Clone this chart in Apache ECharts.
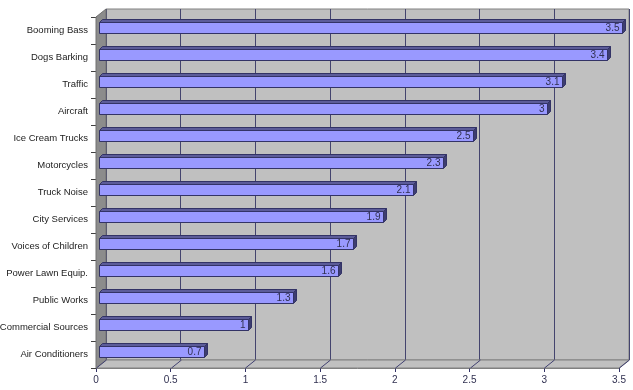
<!DOCTYPE html>
<html><head><meta charset="utf-8">
<script src="https://cdn.jsdelivr.net/npm/echarts@6/dist/echarts.min.js"></script>
<style>html,body{margin:0;padding:0;background:#fff}#c{width:633px;height:390px}</style>
</head><body><div id="c"></div>
<script>
const categories = ['Booming Bass','Dogs Barking','Traffic','Aircraft','Ice Cream Trucks','Motorcycles','Truck Noise','City Services','Voices of Children','Power Lawn Equip.','Public Works','Commercial Sources','Air Conditioners'];
const values = [3.5,3.4,3.1,3,2.5,2.3,2.1,1.9,1.7,1.6,1.3,1,0.7];
const xMin = 0, xMax = 3.5, xStep = 0.5;
const xTickValues = [0,0.5,1,1.5,2,2.5,3,3.5];

const DX = 10, DY = 8;      // wall depth
const BDX = 3, BDY = 3;     // bar depth
const FONT = 'Liberation Sans';

const chart = echarts.init(document.getElementById('c'), null, {renderer:'canvas'});

function decor(params, api) {
  const cs = params.coordSys;
  const x0 = cs.x, x1 = cs.x + cs.width, yt = cs.y, yb = cs.y + cs.height;
  const children = [];
  children.push({type:'polygon', shape:{points:[[x0,yt],[x0+DX,yt-DY],[x0+DX,yb-DY],[x0,yb]]},
    style:{fill:'#8c8c8c', stroke:'#707070', lineWidth:1}});
  children.push({type:'polygon', shape:{points:[[x0,yb],[x1,yb],[x1+DX,yb-DY],[x0+DX,yb-DY]]},
    style:{fill:'#c0c0c0', stroke:'#808080', lineWidth:1}});
  xTickValues.forEach(v => {
    const p = api.coord([v, 0]);
    children.push({type:'line', shape:{x1:Math.round(p[0])+0.5, y1:yb, x2:Math.round(p[0])+0.5+DX, y2:yb-DY},
      style:{stroke:'#404070', lineWidth:1}});
  });
  return {type:'group', children};
}

function bar3d(params, api) {
  const v = api.value(0), i = api.value(1);
  const s = api.coord([xMin, i]), e = api.coord([v, i]);
  const cy = s[1] - 3;
  const h = 11;
  const fx0 = Math.round(s[0]) + BDX + 0.5, fx1 = Math.round(e[0]) + BDX + 0.5;
  const fy0 = Math.round(cy - h/2) + 0.5, fy1 = fy0 + h;
  return {type:'group', children:[
    {type:'polygon', shape:{points:[[fx0,fy0],[fx1,fy0],[fx1+BDX,fy0-BDY],[fx0+BDX,fy0-BDY]]},
      style:{fill:'#5c5c99', stroke:'#333366', lineWidth:1}},
    {type:'polygon', shape:{points:[[fx1,fy0],[fx1+BDX,fy0-BDY],[fx1+BDX,fy1-BDY],[fx1,fy1]]},
      style:{fill:'#3d3d70', stroke:'#333366', lineWidth:1}},
    {type:'rect', shape:{x:fx0, y:fy0, width:fx1-fx0, height:h},
      style:{fill:'#9999ff', stroke:'#333366', lineWidth:1}},
    {type:'text', x:fx1-3, y:fy0+h/2+0.5,
      style:{text:String(v), fill:'#303050', font:'10px "'+FONT+'"', align:'right', verticalAlign:'middle'}}
  ]};
}

chart.setOption({
  animation:false,
  backgroundColor:'#ffffff',
  textStyle:{fontFamily:FONT},
  grid:[
    {left:96, right:14, top:17, bottom:22, containLabel:false, outerBoundsMode:'none'},
    {left:96+DX, right:14-DX, top:17-DY, bottom:22+DY, containLabel:false, outerBoundsMode:'none',
      show:true, backgroundColor:'#c0c0c0', borderColor:'#808080', borderWidth:1, z:0}
  ],
  xAxis:[
    {type:'value', gridIndex:0, min:xMin, max:xMax, interval:xStep,
      axisLine:{show:true, lineStyle:{color:'#808080'}},
      axisTick:{show:true, length:4, lineStyle:{color:'#333366'}},
      axisLabel:{color:'#303050', fontSize:10, margin:7, fontFamily:FONT},
      splitLine:{show:false}},
    {type:'value', gridIndex:1, min:xMin, max:xMax, interval:xStep,
      axisLine:{show:false}, axisTick:{show:false}, axisLabel:{show:false},
      splitLine:{show:true, lineStyle:{color:'#44446e', width:1}}}
  ],
  yAxis:[
    {type:'category', gridIndex:0, data:categories, inverse:true,
      axisLine:{show:true, lineStyle:{color:'#404040'}},
      axisTick:{show:true, length:5, lineStyle:{color:'#404040'}},
      axisLabel:{color:'#222222', fontSize:9.5, margin:8, fontFamily:FONT},
      splitLine:{show:false}},
    {type:'category', gridIndex:1, data:categories, inverse:true, show:false}
  ],
  series:[
    {type:'custom', xAxisIndex:0, yAxisIndex:0, renderItem:decor, data:[[0,0]], clip:false, z:1, silent:true},
    {type:'custom', xAxisIndex:0, yAxisIndex:0, renderItem:bar3d, clip:false, z:3,
      data: values.map((v,i)=>[v,i])}
  ]
});
</script>
</body></html>
